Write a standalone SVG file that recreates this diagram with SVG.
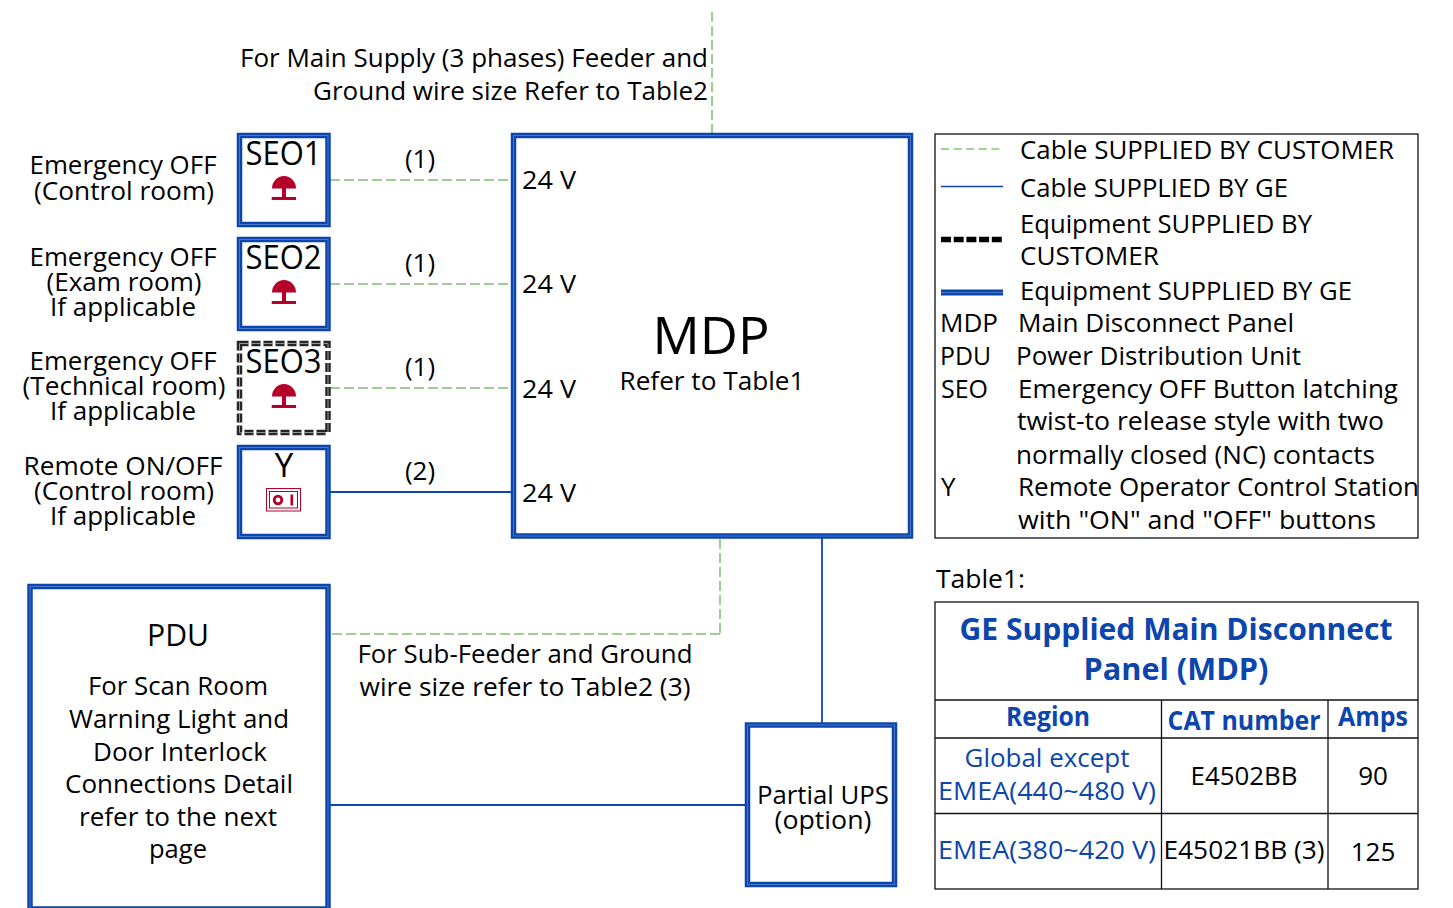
<svg xmlns="http://www.w3.org/2000/svg" width="1453" height="908" viewBox="0 0 1453 908">
<style>
text{font-family:"Open Sans","Liberation Sans",sans-serif;font-size:26px;fill:#000;text-anchor:middle}
.s{text-anchor:start}
.e{text-anchor:end}
.h{fill:#0b45ad;font-weight:700}
.b{fill:#0b45ad}
.ge{fill:#fff;stroke:#0b45ad;stroke-width:5.5}
.ge2{fill:none;stroke:#4a76c6;stroke-width:1}
.cu{fill:#fff;stroke:#262626;stroke-width:5.5;stroke-dasharray:9 3}
.cu2{fill:none;stroke:#999;stroke-width:1;stroke-dasharray:9 3}
.gl{fill:none;stroke:#7dbf74;stroke-width:1.6;stroke-dasharray:10 4}
.gl2{fill:none;stroke:#9bd08f;stroke-width:2;stroke-dasharray:10 4}
.gl3{fill:none;stroke:#7cc96f;stroke-width:1.3;stroke-dasharray:8 4.600}
.bl{fill:none;stroke:#0b45ad;stroke-width:1.8}
.red{fill:#b5002a}
.sw{fill:none;stroke:#b5002a}
.box{fill:none;stroke:#111;stroke-width:1.3}
</style>
<g id="connectors">
<path class="gl2" d="M712 12V133"/>
<path class="gl" d="M330 180H511"/>
<path class="gl" d="M330 284H511"/>
<path class="gl" d="M330 388H511"/>
<path class="bl" d="M330 492H511"/>
<path class="gl2" d="M720 539V634"/>
<path class="gl" d="M720 634H330"/>
<path class="bl" d="M822 538V723"/>
<path class="bl" d="M330 805H746"/>
</g>
<g id="note-main"><text class="e" x="708" y="67" textLength="468" lengthAdjust="spacingAndGlyphs">For Main Supply (3 phases) Feeder and</text><text class="e" x="708" y="100" textLength="395" lengthAdjust="spacingAndGlyphs">Ground wire size Refer to Table2</text></g>
<g id="label-seo1"><text x="123" y="174" textLength="187" lengthAdjust="spacingAndGlyphs">Emergency OFF</text><text x="124" y="200" textLength="180" lengthAdjust="spacingAndGlyphs">(Control room)</text></g>
<g id="label-seo2"><text x="123" y="266" textLength="187" lengthAdjust="spacingAndGlyphs">Emergency OFF</text><text x="124" y="291" textLength="155" lengthAdjust="spacingAndGlyphs">(Exam room)</text><text x="123" y="316" textLength="146" lengthAdjust="spacingAndGlyphs">If applicable</text></g>
<g id="label-seo3"><text x="123" y="370" textLength="187" lengthAdjust="spacingAndGlyphs">Emergency OFF</text><text x="124" y="395" textLength="203" lengthAdjust="spacingAndGlyphs">(Technical room)</text><text x="123" y="420" textLength="146" lengthAdjust="spacingAndGlyphs">If applicable</text></g>
<g id="label-y"><text x="123" y="475" textLength="199" lengthAdjust="spacingAndGlyphs">Remote ON/OFF</text><text x="124" y="500" textLength="180" lengthAdjust="spacingAndGlyphs">(Control room)</text><text x="123" y="525" textLength="146" lengthAdjust="spacingAndGlyphs">If applicable</text></g>
<g id="seo1"><rect class="ge" x="239.500" y="135.500" width="88.500" height="89"/><rect class="ge2" x="239.500" y="135.500" width="88.500" height="89"/><text x="283.500" y="165" style="font-size:32px" textLength="76" lengthAdjust="spacingAndGlyphs">SEO1</text><path class="red" d="M272 188.500a12 12.500 0 0 1 24 0z"/><path class="red" d="M282 188h4v9h10v3h-24.300v-3h10.300z"/></g>
<g id="seo2"><rect class="ge" x="239.500" y="239.500" width="88.500" height="89"/><rect class="ge2" x="239.500" y="239.500" width="88.500" height="89"/><text x="283.500" y="269" style="font-size:32px" textLength="76" lengthAdjust="spacingAndGlyphs">SEO2</text><path class="red" d="M272 292.500a12 12.500 0 0 1 24 0z"/><path class="red" d="M282 292h4v9h10v3h-24.300v-3h10.300z"/></g>
<g id="seo3"><rect class="cu" x="239.500" y="343.500" width="88.500" height="89"/><rect class="cu2" x="239.500" y="343.500" width="88.500" height="89"/><text x="283.500" y="373" style="font-size:32px" textLength="76" lengthAdjust="spacingAndGlyphs">SEO3</text><path class="red" d="M272 396.500a12 12.500 0 0 1 24 0z"/><path class="red" d="M282 396h4v9h10v3h-24.300v-3h10.300z"/></g>
<g id="y"><rect class="ge" x="239.500" y="447.500" width="88.500" height="89"/><rect class="ge2" x="239.500" y="447.500" width="88.500" height="89"/><text x="284" y="477" style="font-size:33px">Y</text><rect class="sw" x="266.500" y="488.500" width="34" height="22.500" stroke-width="1"/><rect class="sw" x="269.500" y="491.500" width="28" height="16.500" stroke-width="1"/><circle class="sw" cx="278" cy="500" r="3.800" stroke-width="2.800"/><path class="sw" d="M291.800 494.500v11" stroke-width="2.600"/></g>
<g id="conn-labels"><text x="420" y="168">(1)</text><text x="420" y="272">(1)</text><text x="420" y="376">(1)</text><text x="420" y="480">(2)</text></g>
<g id="mdp"><rect class="ge" x="513.500" y="135.500" width="397" height="400.500"/><rect class="ge2" x="513.500" y="135.500" width="397" height="400.500"/><text class="s" x="522" y="189" textLength="54" lengthAdjust="spacingAndGlyphs">24 V</text><text class="s" x="522" y="293" textLength="54" lengthAdjust="spacingAndGlyphs">24 V</text><text class="s" x="522" y="398" textLength="54" lengthAdjust="spacingAndGlyphs">24 V</text><text class="s" x="522" y="502" textLength="54" lengthAdjust="spacingAndGlyphs">24 V</text><text x="711" y="354" style="font-size:52px" textLength="117" lengthAdjust="spacingAndGlyphs">MDP</text><text x="712" y="390" textLength="185" lengthAdjust="spacingAndGlyphs">Refer to Table1</text></g>
<g id="note-sub"><text x="525" y="663" textLength="335" lengthAdjust="spacingAndGlyphs">For Sub-Feeder and Ground</text><text x="525" y="696" textLength="331" lengthAdjust="spacingAndGlyphs">wire size refer to Table2 (3)</text></g>
<g id="pdu"><rect class="ge" x="30" y="586.500" width="298" height="322.500"/><rect class="ge2" x="30" y="586.500" width="298" height="322.500"/><text x="178" y="646" style="font-size:31px" textLength="62" lengthAdjust="spacingAndGlyphs">PDU</text><text x="178" y="695" textLength="180" lengthAdjust="spacingAndGlyphs">For Scan Room</text><text x="179" y="728" textLength="220" lengthAdjust="spacingAndGlyphs">Warning Light and</text><text x="180" y="761" textLength="174" lengthAdjust="spacingAndGlyphs">Door Interlock</text><text x="179" y="793" textLength="228" lengthAdjust="spacingAndGlyphs">Connections Detail</text><text x="178" y="826" textLength="198" lengthAdjust="spacingAndGlyphs">refer to the next</text><text x="178" y="858" textLength="58" lengthAdjust="spacingAndGlyphs">page</text></g>
<g id="ups"><rect class="ge" x="747.500" y="725" width="147" height="159.500"/><rect class="ge2" x="747.500" y="725" width="147" height="159.500"/><text x="823" y="804" textLength="132" lengthAdjust="spacingAndGlyphs">Partial UPS</text><text x="823" y="829" textLength="97" lengthAdjust="spacingAndGlyphs">(option)</text></g>
<g id="legend"><rect class="box" x="935" y="134" width="483" height="404"/>
<path class="gl3" d="M941 149H1004"/><path class="bl" d="M941 186.500H1003" style="stroke-width:1.500"/><path d="M941 239.500H1004" stroke="#000" stroke-width="5.500" stroke-dasharray="10 2.700" fill="none"/><path d="M941 292.500H1003" stroke="#0b45ad" stroke-width="6" fill="none"/><path d="M941 292.500H1003" stroke="#4a76c6" stroke-width="1" fill="none"/>
<text class="s" x="1020" y="159" textLength="374" lengthAdjust="spacingAndGlyphs">Cable SUPPLIED BY CUSTOMER</text><text class="s" x="1020" y="197" textLength="268" lengthAdjust="spacingAndGlyphs">Cable SUPPLIED BY GE</text><text class="s" x="1020" y="233" textLength="292" lengthAdjust="spacingAndGlyphs">Equipment SUPPLIED BY</text><text class="s" x="1020" y="265" textLength="139" lengthAdjust="spacingAndGlyphs">CUSTOMER</text><text class="s" x="1020" y="300" textLength="332" lengthAdjust="spacingAndGlyphs">Equipment SUPPLIED BY GE</text>
<text class="s" x="940" y="332" textLength="58" lengthAdjust="spacingAndGlyphs">MDP</text><text class="s" x="1018" y="332" textLength="276" lengthAdjust="spacingAndGlyphs">Main Disconnect Panel</text><text class="s" x="940" y="365" textLength="51" lengthAdjust="spacingAndGlyphs">PDU</text><text class="s" x="1016" y="365" textLength="285" lengthAdjust="spacingAndGlyphs">Power Distribution Unit</text><text class="s" x="941" y="398" textLength="47" lengthAdjust="spacingAndGlyphs">SEO</text><text class="s" x="1018" y="398" textLength="380" lengthAdjust="spacingAndGlyphs">Emergency OFF Button latching</text><text class="s" x="1017" y="430" textLength="367" lengthAdjust="spacingAndGlyphs">twist-to release style with two</text><text class="s" x="1016" y="464" textLength="359" lengthAdjust="spacingAndGlyphs">normally closed (NC) contacts</text><text class="s" x="941" y="496">Y</text><text class="s" x="1018" y="496" textLength="401" lengthAdjust="spacingAndGlyphs">Remote Operator Control Station</text><text class="s" x="1018" y="529" textLength="358" lengthAdjust="spacingAndGlyphs">with "ON" and "OFF" buttons</text></g>
<g id="table1"><text class="s" x="936" y="588" textLength="89" lengthAdjust="spacingAndGlyphs">Table1:</text><rect class="box" x="935" y="602" width="483" height="287"/><path class="box" d="M935 700H1418M935 738H1418M935 813.500H1418M1161.500 700V889M1328 700V889"/>
<text class="h" x="1176" y="640" style="font-size:31px" textLength="433" lengthAdjust="spacingAndGlyphs">GE Supplied Main Disconnect</text><text class="h" x="1176" y="680" style="font-size:31px" textLength="185" lengthAdjust="spacingAndGlyphs">Panel (MDP)</text>
<text class="h" x="1048" y="726" textLength="84" lengthAdjust="spacingAndGlyphs">Region</text><text class="h" x="1244" y="730" textLength="153" lengthAdjust="spacingAndGlyphs">CAT number</text><text class="h" x="1373" y="726" textLength="70" lengthAdjust="spacingAndGlyphs">Amps</text>
<text class="b" x="1047" y="767" textLength="165" lengthAdjust="spacingAndGlyphs">Global except</text><text class="b" x="1047" y="800" textLength="218" lengthAdjust="spacingAndGlyphs">EMEA(440~480 V)</text><text x="1244" y="785" textLength="107" lengthAdjust="spacingAndGlyphs">E4502BB</text><text x="1373" y="785">90</text>
<text class="b" x="1047" y="859" textLength="218" lengthAdjust="spacingAndGlyphs">EMEA(380~420 V)</text><text x="1244" y="859" textLength="161" lengthAdjust="spacingAndGlyphs">E45021BB (3)</text><text x="1373" y="861">125</text></g>
</svg>
